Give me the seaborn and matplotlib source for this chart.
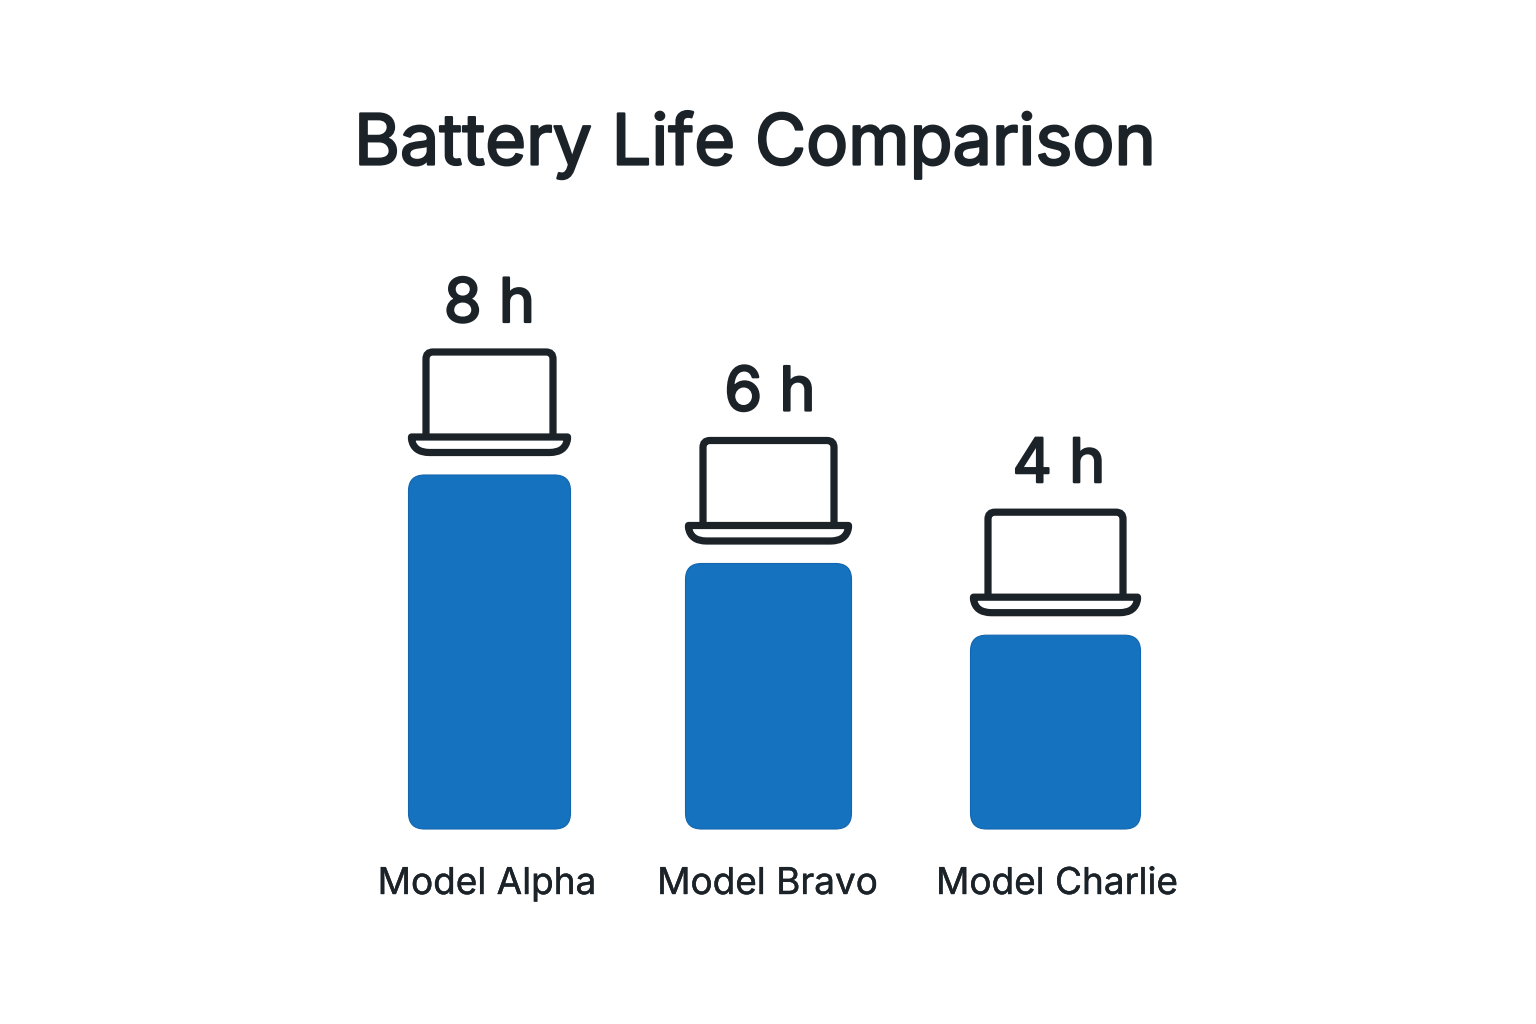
import matplotlib
matplotlib.use("Agg")
from matplotlib import pyplot as plt
from matplotlib import patheffects as pe
from matplotlib.patches import FancyBboxPatch, PathPatch
from matplotlib.path import Path
import pandas as pd
import seaborn as sns

# Data
title = "Battery Life Comparison"
models = ["Model Alpha", "Model Bravo", "Model Charlie"]
hours_labels = ["8 h", "6 h", "4 h"]
# bar heights as drawn, the last bar is taller than its 4 h label implies
bar_heights = [8.0, 6.0, 4.38]

# Layout, in pixels of the 1536x1024 image
bar_left = [408.5, 685.5, 970.5]
bar_width = [162, 166, 170]
bar_bottom = 829
px_per_unit = 44.25
value_dx = [0, 1.5, 3.5]
model_x = [487, 767.5, 1057]
blue = "#1572BF"
edge = "#1265AE"
ink = "#1B2329"

sns.set_theme(style="white")
plt.rcParams['font.family'] = ['Inter', 'DejaVu Sans']

fig = plt.figure(figsize=(15.36, 10.24), dpi=100, facecolor="white")
ax = fig.add_axes([0, 0, 1, 1])
data = pd.DataFrame({"model": models, "hours": bar_heights})
sns.barplot(data=data, x="model", y="hours", color=blue, saturation=1, ax=ax)
ax.set_ylim(-(1024 - bar_bottom) / px_per_unit, bar_bottom / px_per_unit)
ax.axis("off")

# overlay in image pixels for rounded bars, icons and text
ov = fig.add_axes([0, 0, 1, 1])
ov.set_xlim(0, 1536)
ov.set_ylim(1024, 0)
ov.axis("off")
ov.patch.set_alpha(0)


def heavier(width):
    # Inter only comes in regular here, thicken the glyphs with a stroke
    return [pe.withStroke(linewidth=width, foreground=ink)]


def laptop(ov, left, width, top):
    # top = bar top, icon sits above it
    lw = 5.2
    tray_top = top - 38
    tray_bot = top - 22.5
    x0 = left + 3
    x1 = left + width - 3
    sx0 = left + 17.5
    sx1 = left + width - 17.5
    sy = top - 123
    r = 7
    screen = Path(
        [(sx0, tray_top), (sx0, sy + r), (sx0, sy), (sx0 + r, sy),
         (sx1 - r, sy), (sx1, sy), (sx1, sy + r), (sx1, tray_top)],
        [Path.MOVETO, Path.LINETO, Path.CURVE3, Path.CURVE3,
         Path.LINETO, Path.CURVE3, Path.CURVE3, Path.LINETO])
    ov.add_patch(PathPatch(screen, fill=False, ec=ink, lw=lw, capstyle="butt"))
    tray = Path(
        [(x0, tray_top), (x1, tray_top), (x1, tray_top + 2),
         (x1 - 2, tray_bot), (x1 - 18, tray_bot), (x0 + 18, tray_bot),
         (x0 + 2, tray_bot), (x0, tray_top + 2), (x0, tray_top), (x0, tray_top)],
        [Path.MOVETO, Path.LINETO, Path.LINETO,
         Path.CURVE3, Path.CURVE3, Path.LINETO,
         Path.CURVE3, Path.CURVE3, Path.LINETO, Path.CLOSEPOLY])
    ov.add_patch(PathPatch(tray, fill=False, ec=ink, lw=lw, joinstyle="round"))


for i, bar in enumerate(ax.patches[:len(models)]):
    bar.set_visible(False)
    # bar top in pixels comes from the seaborn bar through the y axis
    top = ax.transData.transform((0, bar.get_height()))[1]
    top = 1024 - top
    left = bar_left[i]
    w = bar_width[i]
    ov.add_patch(FancyBboxPatch((left, top), w, bar_bottom - top,
                                boxstyle="round,pad=0,rounding_size=16",
                                fc=blue, ec=edge, lw=0.8))
    laptop(ov, left, w, top)
    ov.text(left + w / 2 + value_dx[i], top - 153, hours_labels[i], ha="center",
            va="baseline", fontsize=44, color=ink,
            path_effects=heavier(1.6))
    ov.text(model_x[i], 894, models[i], ha="center", va="baseline",
            fontsize=26.6, color=ink, path_effects=heavier(0.3))

ov.text(754.5, 164.5, title, ha="center", va="baseline", fontsize=50.5,
        color=ink, path_effects=heavier(1.6))

fig.savefig("out.png", dpi=100, facecolor="white")
plt.close()
